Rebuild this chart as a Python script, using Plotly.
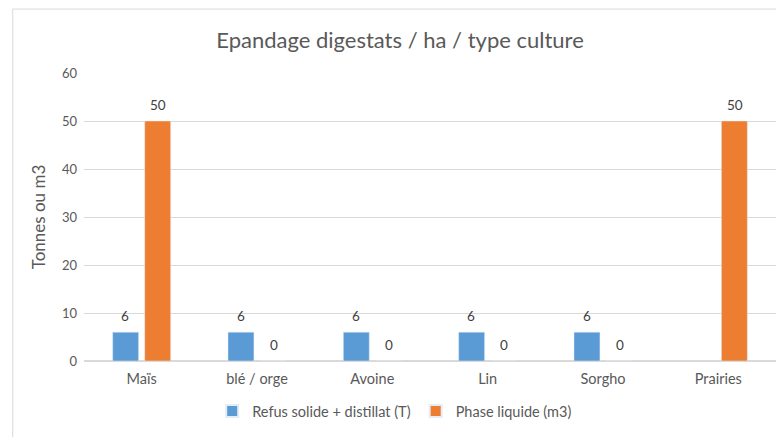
import plotly.graph_objects as go

categories = ["Maïs", "blé / orge", "Avoine", "Lin", "Sorgho", "Prairies"]
solide = [6, 6, 6, 6, 6, None]
liquide = [50, 0, 0, 0, 0, 50]
series_names = ["Refus solide + distillat (T)", "Phase liquide (m3)"]

FONT = "Lato"
GRAY = "#595959"
LABEL = "#404040"

fig = go.Figure()
fig.add_trace(go.Bar(
    x=categories, y=solide, name=series_names[0],
    marker=dict(color="#5B9BD5"),
))
fig.add_trace(go.Bar(
    x=categories, y=liquide, name=series_names[1],
    marker=dict(color="#ED7D31"),
))

annotations = []
for values, dx in ((solide, -16.5), (liquide, 16.5)):
    for cat, v in zip(categories, values):
        if v is None:
            continue
        annotations.append(dict(
            x=cat, y=v, xref="x", yref="y", text=str(v), showarrow=False,
            xshift=dx, yshift=16, yanchor="middle",
            font=dict(family=FONT, size=13.5, color=LABEL)))

fig.update_layout(
    width=784, height=437,
    margin=dict(l=76, r=16, t=65, b=84),
    paper_bgcolor="white", plot_bgcolor="white",
    barmode="group", bargap=0.444, bargroupgap=0.19,
    font=dict(family=FONT, color=GRAY, size=13),
    title=dict(text="Epandage digestats / ha / type culture",
               x=0.5, xanchor="center", y=0.925, yanchor="middle",
               font=dict(family=FONT, size=22, color=GRAY)),
    xaxis=dict(showgrid=False, showline=False, ticks="", ticklabelstandoff=7,
               tickfont=dict(family=FONT, size=14.5, color=GRAY)),
    yaxis=dict(range=[0, 60], dtick=10, showgrid=True, gridcolor="#D9D9D9",
               gridwidth=1, zeroline=True, zerolinecolor="#D9D9D9",
               showline=False, ticks="", ticklen=0, ticklabelstandoff=6,
               tickfont=dict(family=FONT, size=13, color=GRAY),
               title=dict(text="Tonnes ou m3", standoff=11,
                          font=dict(family=FONT, size=17, color=GRAY))),
    legend=dict(orientation="h", x=0.449, xanchor="center", y=-0.174,
                yanchor="middle", font=dict(family=FONT, size=14.5, color=GRAY),
                itemsizing="constant"),
    annotations=annotations,
    shapes=[dict(type="rect", xref="paper", yref="paper",
                 x0=-0.103, x1=1.05, y0=-0.35, y1=1.222,
                 line=dict(color="#D9D9D9", width=1), layer="below")],
)

fig.write_html("out.html")
